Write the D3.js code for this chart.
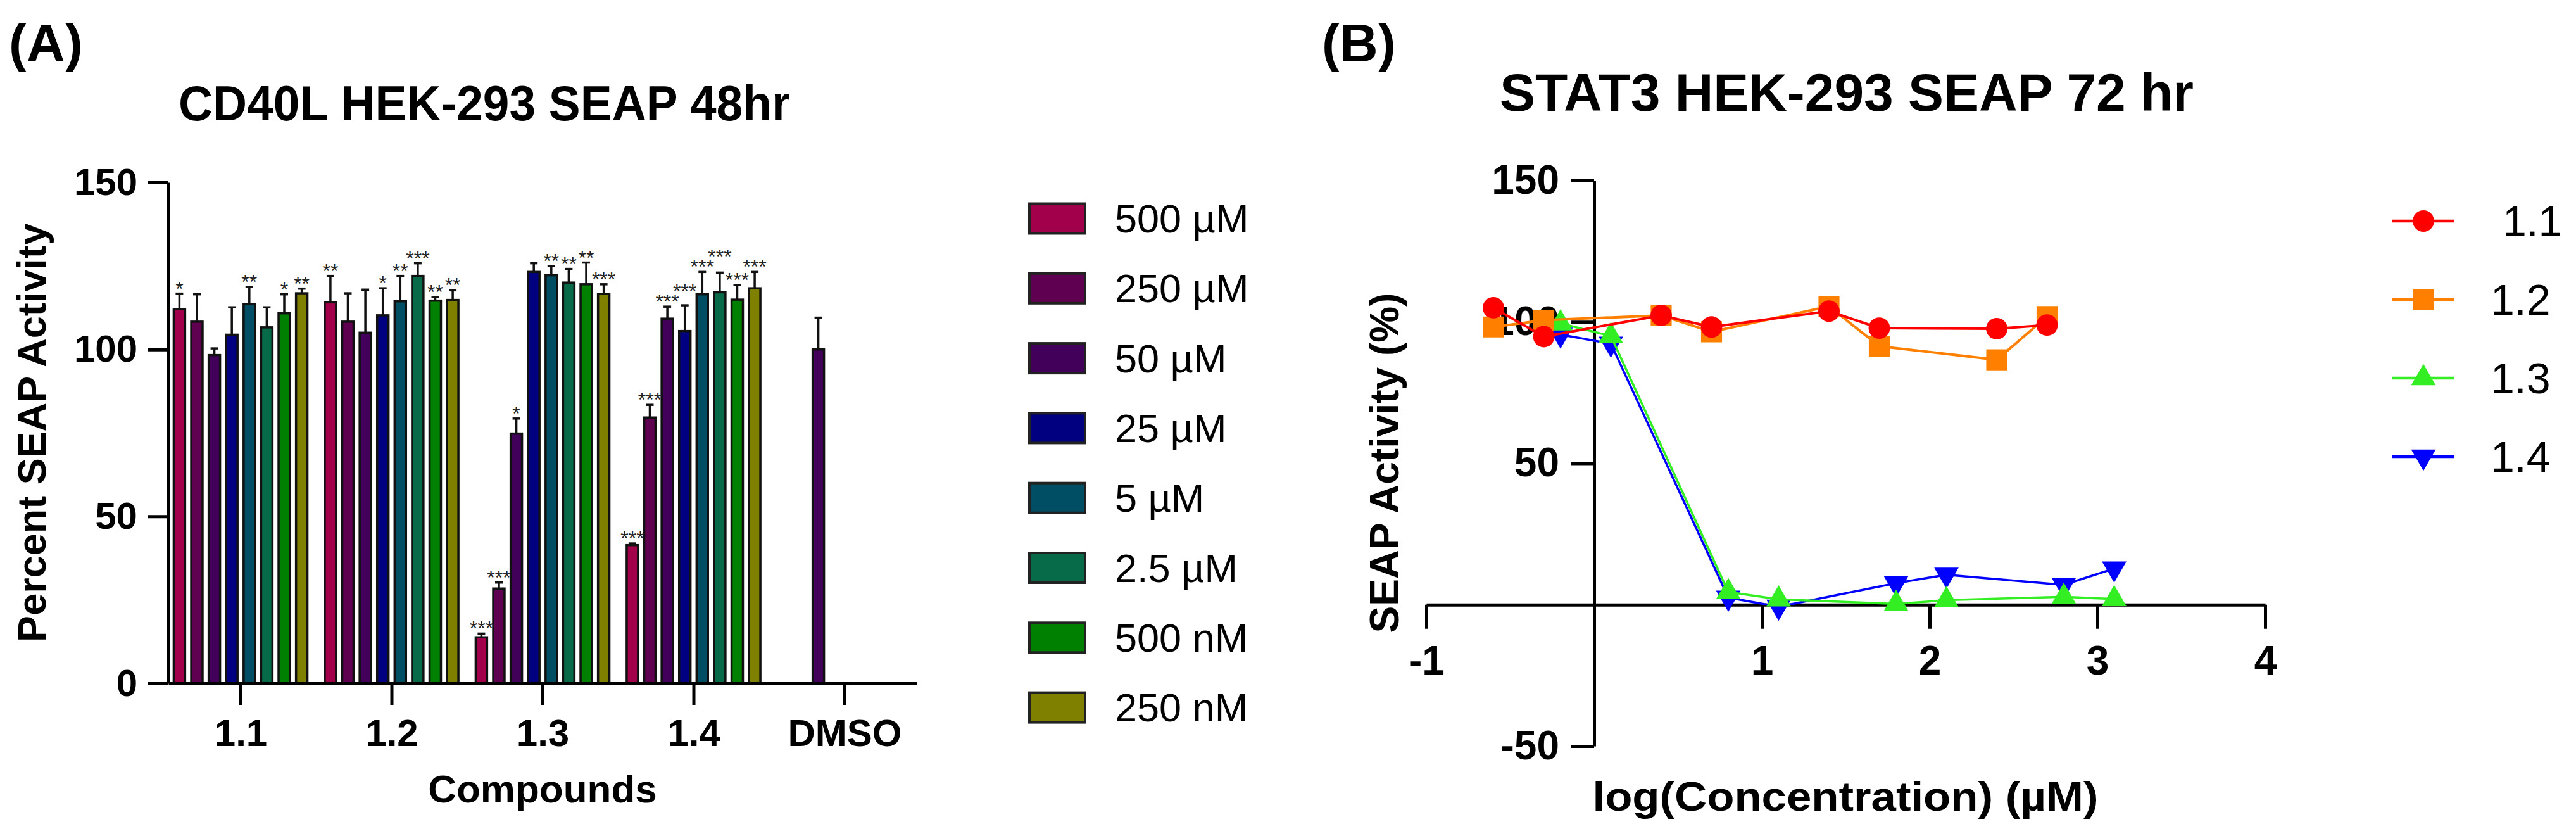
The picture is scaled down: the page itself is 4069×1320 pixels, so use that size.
<!DOCTYPE html>
<html>
<head>
<meta charset="utf-8">
<script src="https://cdn.jsdelivr.net/npm/d3@7/dist/d3.min.js"></script>
<style>
  body { margin: 0; background: #fff; }
  svg text { font-family: "Liberation Sans", Arial, sans-serif; }
</style>
</head>
<body>
<svg id="fig" width="4069" height="1320"></svg>
<script>
// ---- panel A data
const compounds      = ["1.1", "1.2", "1.3", "1.4", "DMSO"]
const concentrations = ["500 µM", "250 µM", "50 µM", "25 µM", "5 µM", "2.5 µM", "500 nM", "250 nM"]
const barColors      = ["#a3004b", "#5f0050", "#42005a", "#000080", "#004e64", "#076a48", "#008000", "#808000"]
const meanActivity = [
  [112.1, 108.3,  98.3, 104.4, 113.6, 106.6, 110.8, 116.8],
  [114.1, 108.3, 105.0, 110.2, 114.4, 122.0, 114.6, 114.8],
  [ 13.8,  28.4,  74.8, 123.2, 122.2, 120.0, 119.5, 116.6],
  [ 41.4,  79.6, 109.2, 105.5, 116.5, 117.1, 114.9, 118.3],
  [null, null, 100.0, null, null, null, null, null]]
const errActivity = [
  [4.6, 8.2,  2.0, 8.2, 5.1, 6.0, 5.7, 1.4],
  [7.9, 8.5, 12.9, 8.1, 7.6, 3.8, 1.1, 2.9],
  [1.1, 1.8,  4.5, 2.6, 2.8, 4.1, 6.5, 2.9],
  [0.5, 3.8,  3.6, 7.7, 6.7, 5.9, 4.4, 4.9],
  [null, null, 9.5, null, null, null, null, null]]
const significance = [
  ["*", "", "", "", "**", "", "*", "**"],
  ["**", "", "", "*", "**", "***", "**", "**"],
  ["***", "***", "*", "", "**", "**", "**", "***"],
  ["***", "***", "***", "***", "***", "***", "***", "***"],
  ["", "", "", "", "", "", "", ""]]
const ticksA = [0, 50, 100, 150]

// ---- panel B data
const logConc11 = [-0.60, -0.30, 0.40, 0.70, 1.40, 1.70, 2.40, 2.70]
const logConc13 = [-0.20,  0.10, 0.80, 1.10, 1.80, 2.10, 2.80, 3.10]
const seap11 = [105.0,  94.8, 102.3, 98.2, 103.8, 97.8, 97.6, 98.9]
const seap12 = [ 98.2, 100.6, 102.3, 96.5, 105.5, 91.4, 86.6, 101.9]
const seap13 = [ 99.5,  95.0,   4.5,  1.9,   0.3,  1.6,  2.8,  2.0]
const seap14 = [ 95.5,  92.3,   2.5, -0.7,   7.6, 10.6,  7.0, 12.8]
const seriesNames  = [" 1.1", "1.2", "1.3", "1.4"]
const seriesColors = ["#ff0000", "#ff8000", "#33ee22", "#0000ff"]
const ticksBy = [-50, 50, 100, 150]
const ticksBx = [-1, 1, 2, 3, 4]

const svg = d3.select('#fig')
const SIG_FS = 32

function styleAxis(g, fs) {
  g.attr('font-family', '"Liberation Sans", Arial, sans-serif')
   .attr('font-size', fs).attr('font-weight', 'bold')
  g.select('.domain').attr('stroke-width', 5)
  g.selectAll('.tick line').attr('stroke-width', 5)
  g.selectAll('.tick text').attr('fill', '#000')
  return g }

function label(txt, x, y, fs, opts = {}) {
  let t = svg.append('text').attr('x', x).attr('y', y)
    .attr('font-size', fs).attr('font-weight', opts.weight || 'bold')
    .attr('text-anchor', opts.anchor || 'start')
    .style('white-space', 'pre')
    .text(txt)
  if (opts.len) t.attr('textLength', opts.len).attr('lengthAdjust', 'spacingAndGlyphs')
  if (opts.rotate) t.attr('transform', `rotate(-90, ${x}, ${y})`)
  return t }

// ================= panel A =================
let yA  = d3.scaleLinear().domain([0, 150]).range([1079, 288]),
    xA  = d3.scalePoint().domain(compounds).range([266, 1448]).padding(0.478),
    xA1 = d3.scaleBand().domain(concentrations).range([-110.4, 110.4])
            .paddingInner(0.35).paddingOuter(0.175)

label('(A)', 14, 97, 84)
label('CD40L HEK-293 SEAP 48hr', 765, 190, 77, { anchor: 'middle', len: 966 })
label('Percent SEAP Activity', 72, 683, 63, { anchor: 'middle', rotate: true })
label('Compounds', 857, 1267, 62, { anchor: 'middle' })

let bars = []
compounds.forEach((c, i) => {
  let prev = null
  concentrations.forEach((k, j) => {
    if (meanActivity[i][j] == null) return
    let d = { c, k, j, m: meanActivity[i][j], e: errActivity[i][j], s: significance[i][j] }
    // star label sits on the cap, lifted when it would collide with its left neighbour
    d.sy = yA(d.m + d.e) + 3
    if (d.s && prev && prev.s) {
      let half = (d.s.length + prev.s.length) * 0.389 * SIG_FS / 2
      if (half > xA1.step() && Math.abs(d.sy - prev.sy) < 14) d.sy = prev.sy - 16 }
    prev = d
    bars.push(d) }) })

let gA = svg.append('g')
gA.selectAll('rect.bar').data(bars).enter().append('rect')
  .attr('class', 'bar')
  .attr('x', d => xA(d.c) + xA1(d.k))
  .attr('width', xA1.bandwidth())
  .attr('y', d => yA(d.m))
  .attr('height', d => yA(0) - yA(d.m))
  .attr('fill', d => barColors[d.j])
  .attr('stroke', '#111').attr('stroke-width', 3.5)

let cx = d => xA(d.c) + xA1(d.k) + xA1.bandwidth() / 2
gA.selectAll('line.err').data(bars).enter().append('line')
  .attr('x1', cx).attr('x2', cx)
  .attr('y1', d => yA(d.m)).attr('y2', d => yA(d.m + d.e))
  .attr('stroke', '#111').attr('stroke-width', 3.5)
gA.selectAll('line.cap').data(bars).enter().append('line')
  .attr('x1', d => cx(d) - 6).attr('x2', d => cx(d) + 6)
  .attr('y1', d => yA(d.m + d.e)).attr('y2', d => yA(d.m + d.e))
  .attr('stroke', '#111').attr('stroke-width', 3.5)
gA.selectAll('text.sig').data(bars.filter(d => d.s)).enter().append('text')
  .attr('x', cx).attr('y', d => d.sy)
  .attr('text-anchor', 'middle').attr('font-size', SIG_FS).attr('fill', '#222')
  .text(d => d.s)

svg.append('g').attr('transform', 'translate(266,0)')
  .call(d3.axisLeft(yA).tickValues(ticksA).tickSize(33).tickPadding(16).tickSizeOuter(0))
  .call(g => styleAxis(g, 60))
svg.append('g').attr('transform', `translate(0,${yA(0)})`)
  .call(d3.axisBottom(xA).tickSize(34).tickPadding(22).tickSizeOuter(0))
  .call(g => styleAxis(g, 60))

// legend A
let lgA = svg.append('g').selectAll('g').data(concentrations).enter().append('g')
  .attr('transform', (d, i) => `translate(1626,${345 + i * 110.3})`)
lgA.append('rect').attr('x', 0).attr('y', -23.5).attr('width', 88).attr('height', 47)
  .attr('fill', (d, i) => barColors[i]).attr('stroke', '#222').attr('stroke-width', 4)
lgA.append('text').attr('x', 135).attr('y', 22).attr('font-size', 63).text(d => d)

// ================= panel B =================
let xB = d3.scaleLinear().domain([-1, 4]).range([2253, 3578]),
    yB = d3.scaleLinear().domain([-50, 150]).range([1178, 285])

label('(B)', 2088, 97, 84)
label('STAT3 HEK-293 SEAP 72 hr', 2369, 175, 84, { len: 1096 })
label('SEAP Activity (%)', 2209, 731, 64, { anchor: 'middle', rotate: true })
label('log(Concentration) (µM)', 2915, 1280, 64, { anchor: 'middle', len: 799 })

svg.append('g').attr('transform', `translate(${xB(0)},0)`)
  .call(d3.axisLeft(yB).tickValues(ticksBy).tickFormat(d => String(d))
          .tickSize(36).tickPadding(19).tickSizeOuter(0))
  .call(g => styleAxis(g, 64))
svg.append('g').attr('transform', `translate(0,${yB(0)})`)
  .call(d3.axisBottom(xB).tickValues(ticksBx).tickFormat(d => String(d))
          .tickSize(38).tickPadding(27).tickSizeOuter(0))
  .call(g => styleAxis(g, 64))

let symbols = [d3.symbolCircle, d3.symbolSquare, d3.symbolTriangle, d3.symbolTriangle],
    symSize = [900, 1100, 650, 650],
    symRot  = [0, 0, 0, 180],
    series  = [
      { xs: logConc11, ys: seap11 },
      { xs: logConc11, ys: seap12 },
      { xs: logConc13, ys: seap13 },
      { xs: logConc13, ys: seap14 }],
    line = d3.line().x(d => xB(d[0])).y(d => yB(d[1]))

// 1.1 ends up on top, as in the original
d3.range(3, -1, -1).forEach(i => {
  let pts = d3.zip(series[i].xs, series[i].ys),
      g   = svg.append('g')
  g.append('path').datum(pts).attr('d', line)
    .attr('fill', 'none').attr('stroke', seriesColors[i]).attr('stroke-width', i < 2 ? 4 : 3.5)
  g.selectAll('path.pt').data(pts).enter().append('path')
    .attr('class', 'pt')
    .attr('d', d3.symbol().type(symbols[i]).size(symSize[i]))
    .attr('transform', d => `translate(${xB(d[0])},${yB(d[1])}) rotate(${symRot[i]})`)
    .attr('fill', seriesColors[i]) })

// legend B
let lgB = svg.append('g').selectAll('g').data(seriesNames).enter().append('g')
  .attr('transform', (d, i) => `translate(3828,${349 + i * 124})`)
lgB.append('line').attr('x1', -49).attr('x2', 49)
  .attr('stroke', (d, i) => seriesColors[i]).attr('stroke-width', 4.5)
lgB.append('path')
  .attr('d', (d, i) => d3.symbol().type(symbols[i]).size(symSize[i])())
  .attr('transform', (d, i) => `rotate(${symRot[i]})`)
  .attr('fill', (d, i) => seriesColors[i])
lgB.append('text').attr('x', 106).attr('y', 24).attr('font-size', 68)
  .style('white-space', 'pre').text(d => d)
</script>
</body>
</html>
